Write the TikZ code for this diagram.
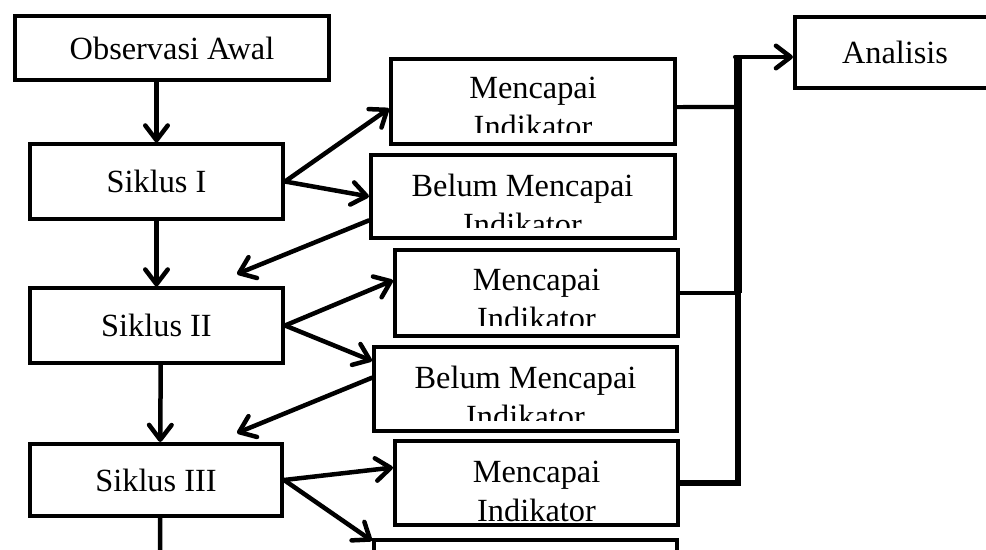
\documentclass[tikz,border=0pt]{standalone}
\usepackage{fontspec}
\setmainfont{Liberation Serif}
\usetikzlibrary{arrows.meta}
\tikzset{
  box/.style={draw, line width=2.85pt, inner sep=0pt, align=center},
  flow/.style={line width=3.2pt, line cap=round, line join=round,
    -{Straight Barb[length=10.5pt,width=16pt,line cap=round,line join=round]}},
  link/.style={line width=3pt, line join=miter},
}
\begin{document}
\begin{tikzpicture}[x=0.025cm, y=-0.025cm,
    font=\fontsize{23}{27.5}\selectfont]
    \clip (0,0) rectangle (986,550);
    % left column
    \node[box, minimum width=7.85cm, minimum height=1.6cm] (obs) at (172,48) {Observasi Awal};
    \node[box, minimum width=6.325cm, minimum height=1.85cm] (s1) at (156.5,181.5) {Siklus I};
    \node[box, minimum width=6.325cm, minimum height=1.85cm] (s2) at (156.5,325.5) {Siklus II};
    \node[box, minimum width=6.3cm, minimum height=1.8cm] (s3) at (156,480) {Siklus III};
    % results
    \node[box, minimum width=7.1cm, minimum height=2.125cm] (m1) at (533,101.5) {};
    \node[box, minimum width=7.6cm, minimum height=2.075cm] (b1) at (523,196.5) {};
    \node[box, minimum width=7.075cm, minimum height=2.15cm] (m2) at (536.5,293) {};
    \node[box, minimum width=7.575cm, minimum height=2.1cm] (b2) at (525.5,389) {};
    \node[box, minimum width=7.075cm, minimum height=2.1cm] (m3) at (536.5,483) {};
    \node[box, minimum width=7.575cm, minimum height=2.1cm] (b3) at (525.5,582) {};
    \node[box, minimum width=5cm, minimum height=1.775cm] (ana) at (895,52.5) {Analisis};
    % texts, cut off at the bottom
    \begin{scope}
      \clip (m1.north west) rectangle (675,133);
      \node[anchor=north, align=center, inner sep=0pt] (m1t) at (533,77) {Mencapai\\Indikator};
    \end{scope}
    \begin{scope}
      \clip (b1.north west) rectangle (675,228);
      \node[anchor=north, align=center, inner sep=0pt] (b1t) at (522.5,174) {Belum Mencapai\\Indikator};
    \end{scope}
    \begin{scope}
      \clip (m2.north west) rectangle (678,325);
      \node[anchor=north, align=center, inner sep=0pt] (m2t) at (536.5,269) {Mencapai\\Indikator};
    \end{scope}
    \begin{scope}
      \clip (b2.north west) rectangle (677,420);
      \node[anchor=north, align=center, inner sep=0pt] (b2t) at (525.5,366) {Belum Mencapai\\Indikator};
    \end{scope}
    \node[anchor=north, align=center, inner sep=0pt] (m3t) at (536.5,461) {Mencapai\\Indikator};
    % free ends
    \coordinate (r2) at (237,274);
    \coordinate (r3) at (237,433);
    \coordinate (down) at (160.2,600);
    \coordinate (j0) at (738,57);
    \coordinate (j1) at (738,107);
    \coordinate (j2) at (738,293);
    \coordinate (j3) at (738,483);
    % cycle arrows
    \draw[flow] (obs.south -| s1.north) -- (s1.north);
    \draw[flow] (s1.east) -- ([yshift=-5pt]m1.west);
    \draw[flow] (s1.east) -- (b1.west);
    \draw[flow] ([yshift=-17pt]b1.west) -- (r2);
    \draw[flow] (s1.south) -- (s2.north);
    \draw[flow] (s2.east) -- ([yshift=9pt]m2.west);
    \draw[flow] (s2.east) -- ([yshift=20pt]b2.west);
    \draw[flow] ([yshift=8pt]b2.west) -- (r3);
    \draw[flow] ([xshift=3pt]s2.south) -- ([xshift=3pt]s3.north);
    \draw[flow] (s3.east) -- ([yshift=11pt]m3.west);
    \draw[flow] (s3.east) -- ([yshift=-2pt]b3.north west);
    \draw[flow] ([xshift=3pt]s3.south) -- (down);
    % to analysis
    \draw[link] ([yshift=-4pt]m1.east) -- (j1);
    \draw[link] (m2.east) -- (j2);
    \draw[link, line width=3.6pt] (m3.east) -- (j3) -- (j2);
    \draw[link, line width=5.7pt] (j2) -- (j0);
    \draw[flow] ([xshift=-2pt]j0) -- (ana.west |- j0);
\end{tikzpicture}
\end{document}
